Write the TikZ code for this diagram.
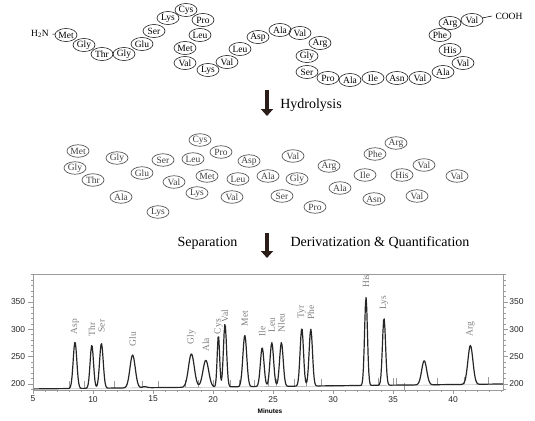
\documentclass[tikz,border=0pt]{standalone}
\usepackage{fontspec}
\setmainfont{Liberation Serif}
\setsansfont{Liberation Sans}
\usepackage{xcolor}
\usepackage{tikz}
\usetikzlibrary{arrows.meta,shapes.geometric}
\definecolor{arrowBrown}{HTML}{2B1D18}
\definecolor{ringGray}{HTML}{555555}
\definecolor{labelGray}{HTML}{808080}
\definecolor{frameGray}{HTML}{9A9A9A}
\definecolor{traceBlack}{HTML}{262626}

\begin{document}
\begin{tikzpicture}[x=1pt, y=-1pt,
  res/.style={ellipse, draw=black, line width=0.5pt, inner sep=0pt, minimum width=22pt, minimum height=13pt, font=\fontsize{9.5}{10}\selectfont},
  free/.style={ellipse, draw=ringGray, line width=0.7pt, text=black!75, inner sep=0pt, minimum width=22pt, minimum height=12.5pt, font=\fontsize{9.5}{10}\selectfont},
  bigarrow/.style={-{Triangle[width=12pt,length=7pt]}, line width=4pt, draw=arrowBrown},
  steplabel/.style={font=\fontsize{14}{16}\selectfont},
  pklabel/.style={rotate=90, anchor=west, inner sep=0.5pt, text=labelGray, font=\fontsize{9.5}{10}\selectfont},
  axlabel/.style={font=\sffamily\fontsize{8.5}{9}\selectfont, text=black!85, inner sep=1pt},
  trace/.style={draw=traceBlack, line width=1.2pt, line join=round},
  frame/.style={draw=frameGray, line width=0.6pt},
  intline/.style={draw=frameGray, line width=0.4pt},
  declare function={
    pk(\tv,\cv,\sv)=exp(-0.5*(min(abs(\tv-\cv)/\sv,6))^2);
    chrom(\tv)=191+0.23*(\tv-5)
      +85*pk(\tv,8.5,0.15)+79*pk(\tv,9.9,0.14)+82*pk(\tv,10.7,0.15)
      +60*pk(\tv,13.3,0.22)+2*pk(\tv,14.3,0.2)
      +61*pk(\tv,18.2,0.24)+49*pk(\tv,19.4,0.24)
      +95*pk(\tv,20.45,0.1)+115*pk(\tv,21.0,0.13)+94*pk(\tv,22.65,0.16)
      +71*pk(\tv,24.1,0.15)+80*pk(\tv,24.9,0.15)+80*pk(\tv,25.7,0.15)
      +106*pk(\tv,27.4,0.14)+104*pk(\tv,28.15,0.14)
      +161*pk(\tv,32.75,0.12)+123*pk(\tv,34.25,0.13)
      +44*pk(\tv,37.6,0.21)+71*pk(\tv,41.45,0.21);
  }
]
\useasboundingbox (0,0) rectangle (535,420);

% peptide chain
\node (h2n) at (40,34) {\fontsize{9.5}{10}\selectfont H\textsubscript{2}N};
\foreach \aa/\x/\y [count=\i] in {Met/66/35, Gly/84/45, Thr/102/54, Gly/124/54, Glu/142/44, Ser/154/31,
    Lys/168/18, Cys/186/10, Pro/203/20, Leu/200/35, Met/185/48, Val/185/63, Lys/208/70, Val/227/62,
    Leu/240/49, Asp/258/37, Ala/280/30, Val/300/33, Arg/320/43, Gly/307/56, Ser/307/72, Pro/328/78,
    Ala/350/80, Ile/373/78, Asn/397/78, Val/420/78, Ala/443/72, Val/463/63, His/450/50, Phe/440/35,
    Arg/450/23, Val/472/20}
  \node[res] (r\i) at (\x,\y) {\aa};
\node[font=\fontsize{9.5}{10}\selectfont] (cooh) at (509,16) {COOH};
\draw[line width=0.5pt] (h2n.east) -- (r1);
\draw[line width=0.5pt] (r32) -- (cooh.west);

% hydrolysis
\coordinate (hyd top) at (267,90);
\coordinate (hyd tip) at (267,116);
\draw[bigarrow] (hyd top) -- (hyd tip);
\node[steplabel] (hydro) at (311,105) {Hydrolysis};

% free amino acids
\foreach \aa/\x/\y [count=\i] in {Met/78/151, Gly/75/168, Thr/93/180, Gly/117/158, Ala/121/197, Glu/142/173,
    Ser/163/160, Lys/158/212, Val/174/182, Cys/200/140, Leu/193/159, Pro/221/152, Met/207/176, Lys/197/193,
    Asp/249/161, Leu/238/179, Val/232/197, Ala/268/176, Ser/282/196, Val/293/156, Gly/297/179, Arg/329/166,
    Ala/340/188, Pro/315/207, Ile/365/175, Phe/375/154, Arg/396/143, Asn/374/199, His/402/175, Val/424/165,
    Val/417/196, Val/457/176}
  \node[free] (f\i) at (\x,\y) {\aa};

% separation
\coordinate (sep top) at (267,233);
\coordinate (sep tip) at (267,258);
\draw[bigarrow] (sep top) -- (sep tip);
\node[steplabel, anchor=east] (sep) at (241,243) {Separation};
\node[steplabel, anchor=west] (quant) at (287,243) {Derivatization \& Quantification};

% chromatogram
\begin{scope}[x=12pt, y=0.547pt, xshift=-27pt, yshift=-493.4pt]
  \draw[intline] (8,191.7) -- (44.2,199.2);
  \foreach \t in {8.0,9.3,11.8,14.1,15.4,17.7,18.8,20.0,21.4,22.2,23.4,24.6,25.3,26.8,27.8,29.0,33.8,35.0,35.25,38.7,40.9,42.9}
    \draw[intline] (\t,{191+0.23*(\t-5)}) -- ++(0,13);
  \draw[intline] (35.9,188) -- (35.9,201);
  \draw[trace] plot[domain=5:44.2, samples=700] (\x,{chrom(\x)});
  \draw[frame] (5,189) rectangle (44.2,401);
  \foreach \t in {5,...,44}
    \draw[frame] (\t,189) -- ++(0,-4);
  \foreach \t in {5,10,...,40} {
    \draw[frame] (\t,189) -- ++(0,-8);
    \node[axlabel, anchor=north] (xl\t) at (\t,180) {\t};
  }
  \foreach \v in {190,200,...,400} {
    \draw[frame] (5,\v) -- ++(-0.2,0);
    \draw[frame] (44.2,\v) -- ++(0.2,0);
  }
  \foreach \v in {200,250,300,350} {
    \draw[frame] (5,\v) -- ++(-0.4,0);
    \draw[frame] (44.2,\v) -- ++(0.4,0);
    \node[axlabel, anchor=east] (yl\v) at (4.45,\v) {\v};
    \node[axlabel, anchor=west] (yr\v) at (44.6,\v) {\v};
  }
  \foreach \pkname/\t/\v in {Asp/8.5/290, Thr/9.9/286, Ser/10.7/293, Glu/13.3/268, Gly/18.2/271, Ala/19.4/258,
      Cys/20.45/290, Val/21.0/311, Met/22.65/304, Ile/24.1/286, Leu/24.9/293, Nleu/25.7/293, Tyr/27.4/319,
      Phe/28.15/317, His/32.75/375, Lys/34.25/335, Arg/41.45/286}
    \node[pklabel] (pk\pkname) at (\t,\v) {\pkname};
\end{scope}
\node[font=\sffamily\bfseries\fontsize{6.5}{7}\selectfont] (minutes) at (270,411) {Minutes};
\end{tikzpicture}
\end{document}
